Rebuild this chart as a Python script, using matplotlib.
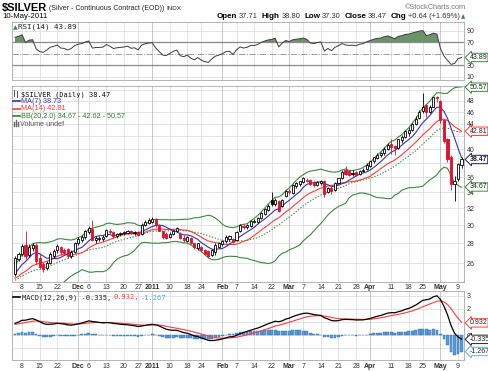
import numpy as np
import pandas as pd
import matplotlib
matplotlib.use("Agg")
import matplotlib.pyplot as plt
from matplotlib.lines import Line2D
from matplotlib.ticker import NullLocator, FixedLocator, FixedFormatter

W, H = 489, 371

# trading days shown (COMEX closed on these)
holidays = ["2010-11-25", "2010-12-24", "2010-12-31", "2011-01-17",
            "2011-02-21", "2011-04-22"]
days = pd.bdate_range("2010-11-04", "2011-05-10")
days = days[~days.isin(pd.to_datetime(holidays))]

# closes before the visible window (Sep 1 - Nov 3 2010), only used to seed the indicators
warmup_close = [19.55, 19.75, 19.95, 19.85, 19.95, 19.85, 19.95, 20.45, 20.75, 20.85,
                20.85, 20.75, 20.85, 20.95, 21.35, 21.05, 21.30, 21.55, 21.85, 21.65,
                21.80, 22.05, 21.95, 22.65, 23.00, 22.70, 23.30, 23.35, 23.45, 24.30,
                24.65, 24.40, 24.45, 23.75, 24.10, 23.85, 23.95, 24.45, 24.35, 23.95,
                24.55, 24.75, 24.95, 25.15, 25.05]

opens = [24.9, 26.4, 26.9, 27.8, 26.8, 27.5, 27.8, 26.5, 25.9, 25.5,
         26.0, 26.7, 27.3, 27.6, 27.3, 27.4, 26.7, 27.1, 28.0, 28.4,
         28.7, 29.2, 29.6, 28.4, 28.5, 28.5, 28.8, 29.4, 29.2, 28.8,
         29.0, 29.1, 29.1, 29.4, 29.1, 29.2, 29.0, 30.0, 30.3, 30.4,
         30.7, 30.0, 29.3, 29.0, 28.7, 29.0, 29.4, 29.0, 28.6, 28.3,
         28.6, 28.0, 27.5, 27.6, 27.3, 27.2, 26.8, 27.1, 27.6, 27.9,
         28.3, 28.5, 28.5, 28.4, 29.3, 29.9, 29.8, 29.9, 30.4, 30.4,
         30.8, 31.3, 31.8, 33.0, 32.5, 32.9, 32.3, 33.5, 34.2, 33.9,
         34.8, 35.0, 35.3, 35.5, 35.6, 35.3, 34.9, 35.2, 35.5, 34.0,
         34.6, 34.3, 35.2, 35.8, 36.9, 36.8, 36.6, 36.7, 36.4, 36.8,
         37.1, 37.6, 38.2, 38.7, 39.2, 39.4, 40.0, 40.8, 40.5, 40.2,
         41.4, 41.9, 42.6, 43.0, 44.0, 45.0, 46.3, 47.2, 46.0, 47.0,
         48.8, 48.0, 44.6, 41.5, 38.8, 35.1, 35.7, 37.71]
highs = [26.7, 27.1, 27.9, 29.3, 27.9, 28.0, 28.0, 26.9, 26.1, 26.2,
         27.1, 27.4, 27.9, 27.7, 27.5, 27.5, 27.3, 28.2, 28.7, 28.9,
         29.5, 29.9, 30.6, 28.8, 28.8, 28.9, 29.6, 29.6, 29.3, 29.1,
         29.2, 29.4, 29.5, 29.5, 29.3, 29.3, 30.2, 30.6, 30.8, 30.9,
         30.8, 30.1, 29.4, 29.2, 29.2, 29.5, 29.8, 29.2, 28.9, 28.8,
         28.7, 28.1, 28.1, 27.7, 27.4, 27.3, 27.4, 28.0, 28.2, 28.4,
         28.9, 28.9, 28.6, 29.3, 30.1, 30.1, 30.1, 30.6, 30.7, 30.9,
         31.5, 32.0, 32.5, 34.0, 33.2, 33.0, 33.1, 34.3, 34.4, 35.0,
         35.3, 35.5, 36.0, 35.9, 35.7, 35.4, 35.4, 35.6, 35.6, 34.7,
         34.8, 35.3, 35.9, 36.9, 37.5, 37.0, 36.9, 36.8, 36.9, 37.2,
         37.9, 38.3, 38.9, 39.4, 39.6, 40.3, 40.9, 41.5, 40.6, 41.6,
         42.2, 43.0, 43.5, 44.2, 45.3, 46.4, 49.5, 47.4, 47.3, 48.7,
         49.0, 48.1, 44.9, 41.7, 39.1, 36.2, 37.9, 38.80]
lows = [24.8, 26.2, 26.7, 26.4, 26.6, 27.2, 25.9, 25.4, 25.1, 25.3,
        25.9, 26.5, 27.0, 26.8, 26.9, 26.5, 26.5, 27.0, 27.8, 28.2,
        28.5, 29.0, 28.3, 28.0, 28.3, 28.3, 28.7, 29.0, 28.6, 28.6,
        28.8, 28.9, 29.0, 29.0, 28.9, 28.8, 28.9, 29.9, 30.1, 30.2,
        29.8, 29.3, 28.5, 28.5, 28.6, 28.9, 29.2, 28.5, 28.2, 28.2,
        27.9, 27.4, 27.3, 27.1, 26.8, 26.5, 26.7, 26.8, 27.5, 27.7,
        28.1, 28.3, 28.0, 28.3, 29.2, 29.6, 29.6, 29.8, 30.2, 30.3,
        30.7, 31.2, 31.6, 32.3, 32.3, 31.5, 32.1, 33.4, 33.8, 33.8,
        34.5, 34.8, 35.2, 35.3, 34.9, 34.7, 34.8, 34.9, 33.4, 33.9,
        33.8, 34.2, 35.1, 35.7, 36.3, 36.2, 36.2, 36.2, 36.3, 36.7,
        37.0, 37.4, 38.0, 38.5, 38.9, 39.2, 39.9, 39.3, 39.2, 40.1,
        41.0, 41.8, 42.0, 42.9, 43.9, 44.9, 45.9, 45.1, 45.8, 46.9,
        47.9, 44.2, 40.9, 38.1, 34.3, 32.9, 35.4, 37.30]
closes = [26.5, 26.9, 27.7, 26.7, 27.6, 27.8, 26.2, 25.6, 25.4, 26.0,
          26.9, 27.2, 27.7, 27.1, 27.0, 26.7, 27.1, 28.0, 28.5, 28.7,
          29.3, 29.7, 28.4, 28.6, 28.6, 28.7, 29.5, 29.2, 28.8, 29.0,
          29.1, 29.2, 29.4, 29.1, 29.2, 28.9, 30.0, 30.4, 30.6, 30.7,
          30.0, 29.4, 28.7, 28.6, 29.0, 29.4, 29.7, 28.6, 28.4, 28.7,
          28.0, 27.6, 28.0, 27.3, 26.9, 26.7, 27.3, 27.8, 28.0, 28.3,
          28.7, 28.8, 28.2, 29.2, 30.0, 29.8, 30.0, 30.5, 30.5, 30.8,
          31.4, 31.9, 32.3, 32.5, 33.0, 31.7, 33.0, 34.2, 34.0, 34.9,
          35.2, 35.4, 35.8, 35.6, 35.0, 34.9, 35.3, 35.5, 33.8, 34.6,
          34.1, 35.2, 35.8, 36.7, 36.4, 36.3, 36.4, 36.3, 36.8, 37.0,
          37.7, 38.2, 38.8, 39.2, 39.4, 40.1, 40.6, 40.4, 40.2, 41.5,
          41.9, 42.8, 43.0, 44.0, 44.9, 46.1, 47.0, 46.1, 46.9, 48.7,
          48.5, 44.6, 41.3, 38.5, 35.0, 35.4, 37.83, 38.47]

tick_dates = ["2010-11-08", "2010-11-15", "2010-11-22", "2010-12-01", "2010-12-06",
              "2010-12-13", "2010-12-20", "2010-12-27", "2011-01-03", "2011-01-10",
              "2011-01-18", "2011-01-24", "2011-02-01", "2011-02-07", "2011-02-14",
              "2011-02-22", "2011-03-01", "2011-03-07", "2011-03-14", "2011-03-21",
              "2011-03-28", "2011-04-01", "2011-04-11", "2011-04-18", "2011-04-25",
              "2011-05-02", "2011-05-09"]
tick_labels = ["8", "15", "22", "Dec", "6", "13", "20", "27", "2011", "10", "18", "24",
               "Feb", "7", "14", "22", "Mar", "7", "14", "21", "28", "Apr", "11", "18",
               "25", "May", "9"]
month_labels = ["Dec", "2011", "Feb", "Mar", "Apr", "May"]

# axis labels that stay visible (the others sit under the value tags)
price_ticks = [26, 28, 30, 32, 34, 36, 40, 44, 46, 48]
rsi_ticks = [10, 30, 70, 90]
macd_ticks = [0, 2, 3]

# latest values printed in the legends / right-hand tags
last_close = 38.47
ma7_last, ma14_last = 38.73, 42.81
bb_low, bb_mid, bb_up = 34.67, 42.62, 50.57
rsi_last = 43.89
macd_last, signal_last, hist_last = -0.335, 0.932, -1.267

# ---- indicators
n0 = len(warmup_close)
allc = pd.Series(warmup_close + closes)
ma7 = allc.rolling(7).mean().values[n0:]
ma14 = allc.rolling(14).mean().values[n0:]
mid = allc.rolling(20).mean()
sd = allc.rolling(20).std(ddof=0)
bbu = (mid + 2 * sd).values[n0:]
bbl = (mid - 2 * sd).values[n0:]
bbm = mid.values[n0:]
diff = allc.diff()
gain = diff.clip(lower=0).ewm(alpha=1 / 14, adjust=False).mean()
loss = (-diff.clip(upper=0)).ewm(alpha=1 / 14, adjust=False).mean()
rsi = (100 - 100 / (1 + gain / loss)).values[n0:]
macd = allc.ewm(span=12, adjust=False).mean() - allc.ewm(span=26, adjust=False).mean()
signal = macd.ewm(span=9, adjust=False).mean()
hist = (macd - signal).values[n0:]
macd = macd.values[n0:]
signal = signal.values[n0:]

x = np.arange(len(closes))
o = np.array(opens)
hi = np.array(highs)
lo = np.array(lows)
c = np.array(closes)
prev = np.concatenate([[warmup_close[-1]], c[:-1]])

pos = {d.strftime("%Y-%m-%d"): i for i, d in enumerate(days)}
tick_pos = [pos[d] for d in tick_dates]

SANS = "Liberation Sans"
MONO = "DejaVu Sans Mono"
GREEN = "#3a8a3a"
BLUE = "#3434a8"
RED = "#ff3b3b"
CANDLE_RED = "#e0102a"


def box(l, t, r, b):
    return [l / W, 1 - b / H, (r - l) / W, (b - t) / H]


fig = plt.figure(figsize=(W / 100, H / 100), dpi=100)
ax_r = fig.add_axes(box(12, 22, 464, 80))
ax_p = fig.add_axes(box(12, 86, 464, 282))
ax_m = fig.add_axes(box(12, 291, 464, 360))

for ax in (ax_r, ax_p, ax_m):
    ax.set_xlim(-0.85, 127.7)
    ax.xaxis.set_major_locator(FixedLocator(tick_pos))
    ax.xaxis.set_major_formatter(FixedFormatter(tick_labels))
    ax.yaxis.tick_right()
    ax.tick_params(length=0, labelsize=5, colors="#333333", pad=2)
    ax.set_axisbelow(True)
    for s in ax.spines.values():
        s.set_color("#a8a8a8")
        s.set_linewidth(0.6)
ax_r.tick_params(labelbottom=False)
ax_p.tick_params(axis="x", pad=1.5)


def finish(ax, grid_y):
    # light grid, slightly darker at the start of each month
    for v in grid_y:
        ax.axhline(v, color="#dedede", lw=0.6, zorder=0)
    for lab, p in zip(tick_labels, tick_pos):
        ax.axvline(p, color="#bdbdbd" if lab in month_labels else "#dedede",
                   lw=0.6, zorder=0)
    for t in ax.get_xticklabels():
        t.set_fontfamily(SANS)
        if t.get_text() in month_labels:
            t.set_fontweight("bold")
    for t in ax.get_yticklabels():
        t.set_fontfamily(SANS)


def tag(ax, v, txt, ec, bold=False):
    ax.annotate(txt, xy=(1, v), xycoords=("axes fraction", "data"),
                xytext=(4, 0), textcoords="offset points", va="center", ha="left",
                fontsize=5, family=SANS, fontweight="bold" if bold else "normal",
                color="#222222", annotation_clip=False, zorder=10,
                bbox=dict(boxstyle="larrow,pad=0.1", fc="white", ec=ec, lw=0.7))


# ---- RSI panel
ax_r.set_ylim(4.7, 105.6)
ax_r.set_yticks(rsi_ticks)
ax_r.set_yticklabels([str(v) for v in rsi_ticks])
finish(ax_r, [10, 90])
ax_r.axhline(70, color="#8a8a8a", lw=0.9)
ax_r.axhline(30, color="#8a8a8a", lw=0.9)
ax_r.axhline(50, color="#9a9a9a", lw=0.7, ls="-.")
ax_r.fill_between(x, 70, rsi, where=rsi >= 70, interpolate=True, color="#6b946b", lw=0)
ax_r.fill_between(x, 30, rsi, where=rsi <= 30, interpolate=True, color="#6b946b", lw=0)
ax_r.plot(x, rsi, color="#3c3c3c", lw=0.7)
tag(ax_r, rsi_last, f"{rsi_last:.2f}", GREEN)

# ---- price panel
ax_p.set_yscale("log")
ax_p.set_ylim(24.2, 50.8)
ax_p.yaxis.set_major_locator(FixedLocator(price_ticks))
ax_p.yaxis.set_major_formatter(FixedFormatter([str(v) for v in price_ticks]))
ax_p.yaxis.set_minor_locator(NullLocator())
ax_p.yaxis.set_minor_formatter(FixedFormatter([]))
finish(ax_p, range(26, 51, 2))
ax_p.plot(x, bbu, color=GREEN, lw=0.8, zorder=2)
ax_p.plot(x, bbl, color=GREEN, lw=0.8, zorder=2)
ax_p.plot(x, bbm, color=GREEN, lw=0.8, ls=(0, (1.2, 1.5)), zorder=2)
ax_p.plot(x, ma14, color=RED, lw=0.8, zorder=2)
ax_p.plot(x, ma7, color=BLUE, lw=0.8, zorder=2)
col = np.where(c >= prev, "black", CANDLE_RED)
face = np.where(c >= o, "white", col)
ax_p.vlines(x, lo, hi, colors=col, lw=0.6, zorder=3)
ax_p.bar(x, np.maximum(np.abs(c - o), 0.06), bottom=np.minimum(o, c), width=0.6,
         color=face, edgecolor=col, lw=0.6, zorder=4)
tag(ax_p, bb_up, f"{bb_up:.2f}", GREEN)
tag(ax_p, ma14_last, f"{ma14_last:.2f}", RED)
tag(ax_p, last_close, f"{last_close:.2f}", "#1a1a5a", bold=True)
tag(ax_p, bb_low, f"{bb_low:.2f}", GREEN)

# ---- MACD panel
ax_m.set_ylim(-1.92, 3.38)
ax_m.set_yticks(macd_ticks)
ax_m.set_yticklabels([str(v) for v in macd_ticks])
finish(ax_m, [-1, 0, 1, 2, 3])
ax_m.bar(x, hist, width=0.8, color="#5b9bd5", edgecolor="#2f6fa8", lw=0.3, zorder=2)
ax_m.plot(x, signal, color=RED, lw=0.8, zorder=3)
ax_m.plot(x, macd, color="black", lw=0.9, zorder=3)
tag(ax_m, signal_last, f"{signal_last:.3f}", RED)
tag(ax_m, macd_last, f"{macd_last:.3f}", "#222222")
tag(ax_m, hist_last, f"{hist_last:.3f}", "#5bb0e8")

renderer = fig.canvas.get_renderer()


def run(xp, yp, pieces):
    # lay pieces of text one after another, starting at pixel (xp, baseline yp)
    for s, kw, gap in pieces:
        t = fig.text(xp / W, 1 - yp / H, s, va="baseline", ha="left", **kw)
        xp += t.get_window_extent(renderer=renderer).width + gap
    return xp


def seg(x1, x2, yp, color, lw=1.2):
    fig.add_artist(Line2D([x1 / W, x2 / W], [1 - yp / H] * 2, color=color, lw=lw,
                          transform=fig.transFigure))


# ---- header
run(2, 10.5, [("$SILVER", dict(family=SANS, fontsize=8, fontweight="bold"), 2),
              ("(Silver - Continuous Contract (EOD))", dict(family=SANS, fontsize=5, color="#222222"), 2),
              ("INDX", dict(family=SANS, fontsize=4.5, color="#222222"), 0)])
fig.text(2 / W, 1 - 18 / H, "10-May-2011", family=SANS, fontsize=5.6, va="baseline")
fig.text(466 / W, 1 - 9 / H, "\u00a9StockCharts.com", family=SANS, fontsize=5.3,
         color="#777777", ha="right", va="baseline")
b = dict(family=SANS, fontsize=5.8, fontweight="bold")
nrm = dict(family=SANS, fontsize=5.4, color="#333333")
run(217, 18, [("Open", b, 1.5), ("37.71", nrm, 4), ("High", b, 1.5), ("38.80", nrm, 4),
              ("Low", b, 1.5), ("37.30", nrm, 4), ("Close", b, 1.5), ("38.47", nrm, 4),
              ("Chg", b, 1.5), ("+0.64 (+1.69%)", nrm, 1.5),
              ("\u25b2", dict(family="DejaVu Sans", fontsize=4, color="#2e8b2e"), 0)])

# ---- RSI legend
fig.text(13 / W, 1 - 29 / H, "\u25b2", family="DejaVu Sans", fontsize=4.5, color="#4f7f4f",
         va="baseline")
fig.text(18 / W, 1 - 29 / H, f"RSI(14) {rsi_last:.2f}", family=MONO, fontsize=5.4,
         va="baseline", color="#222222")

# ---- price legend (small candle icon drawn as two ticks)
seg(14.5, 14.5, 92, "#333333", lw=1.6)
seg(17.5, 17.5, 93.5, "#333333", lw=1.6)
fig.add_artist(Line2D([14.5 / W, 14.5 / W], [1 - 89.5 / H, 1 - 96 / H], color="#333333",
                      lw=0.6, transform=fig.transFigure))
fig.add_artist(Line2D([17.5 / W, 17.5 / W], [1 - 90.5 / H, 1 - 96.5 / H], color="#333333",
                      lw=0.6, transform=fig.transFigure))
fig.text(21 / W, 1 - 96 / H, f"$SILVER (Daily) {last_close:.2f}", family=MONO, fontsize=5,
         va="baseline", color="#111111")
leg = [(f"MA(7) {ma7_last:.2f}", BLUE),
       (f"MA(14) {ma14_last:.2f}", RED),
       (f"BB(20,2.0) {bb_low:.2f} - {bb_mid:.2f} - {bb_up:.2f}", "#2e7d2e")]
for k, (s, colr) in enumerate(leg):
    yb = 103 + 7.5 * k
    seg(13, 20, yb - 2, colr)
    fig.text(21 / W, 1 - yb / H, s, family=SANS, fontsize=5.2, color=colr, va="baseline")
for xb, top in ((14, 122), (16, 120.5), (18, 121.5)):
    fig.add_artist(Line2D([xb / W, xb / W], [1 - top / H, 1 - 125.5 / H], color="#666666",
                          lw=1.0, transform=fig.transFigure))
fig.text(20 / W, 1 - 125.5 / H, "Volume undef", family=SANS, fontsize=5.2,
         color="#555555", va="baseline")

# ---- MACD legend
seg(13, 20, 297, "black")
run(22, 299.5, [(f"MACD(12,26,9) {macd_last:.3f},", dict(family=MONO, fontsize=5, color="#222222"), 2),
                (f"{signal_last:.3f},", dict(family=MONO, fontsize=5, color=RED), 2),
                (f"{hist_last:.3f}", dict(family=MONO, fontsize=5, color="#4da6e0"), 0)])

fig.savefig("out.png", dpi=100)
